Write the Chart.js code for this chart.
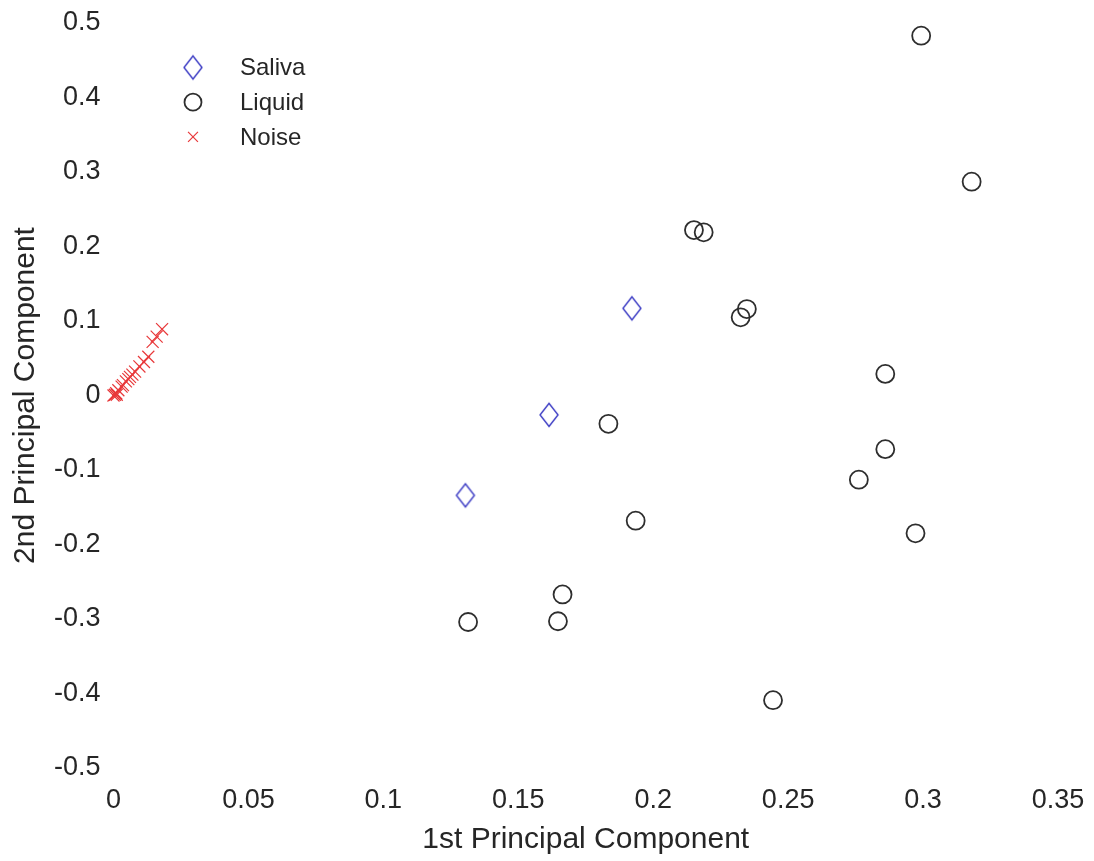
<!DOCTYPE html>
<html>
<head>
<meta charset="utf-8">
<script src="https://cdn.jsdelivr.net/npm/chart.js@4/dist/chart.umd.min.js"></script>
<style>
  html, body { margin: 0; padding: 0; background: #fff; }
  #wrap { width: 1094px; height: 861px; position: relative; }
</style>
</head>
<body>
<div id="wrap"><canvas id="pca"></canvas></div>
<script>
// values: [1st PC, 2nd PC]
const salivaX = [0.1921, 0.1614, 0.1304];
const salivaY = [0.117, -0.026, -0.134];

const liquidX = [0.2993, 0.318, 0.2151, 0.2187, 0.2347, 0.2324, 0.286, 0.286, 0.2762, 0.2972,
                 0.1834, 0.1935, 0.1664, 0.1647, 0.1314, 0.2444];
const liquidY = [0.483, 0.287, 0.222, 0.219, 0.116, 0.105, 0.029, -0.072, -0.113, -0.185,
                 -0.038, -0.168, -0.267, -0.303, -0.304, -0.409];

const noiseX = [0, 0.0005, 0.001, 0.0012, 0.0018, 0.003, 0.0035, 0.0046, 0.0055, 0.0061, 0.007,
                0.008, 0.0096, 0.0113, 0.0129, 0.0145, 0.016, 0.018];
const noiseY = [0, 0.001, 0.003, 0.001, 0.007, 0.012, 0.014, 0.019, 0.022, 0.025, 0.028,
                0.032, 0.039, 0.045, 0.052, 0.072, 0.079, 0.089];

const xTicks = [0, 0.05, 0.1, 0.15, 0.2, 0.25, 0.3, 0.35];
const xTickLabels = ['0', '0.05', '0.1', '0.15', '0.2', '0.25', '0.3', '0.35'];
const yTicks = [-0.5, -0.4, -0.3, -0.2, -0.1, 0, 0.1, 0.2, 0.3, 0.4, 0.5];
const yTickLabels = ['-0.5', '-0.4', '-0.3', '-0.2', '-0.1', '0', '0.1', '0.2', '0.3', '0.4', '0.5'];

const FONT = '"Liberation Sans", Arial, sans-serif';
const TXT = '#262626';

function pts(xs, ys) {
    return xs.map((x, i) => ({ x: x, y: ys[i] }));
}

// tall diamond marker like matlab's 'd'
function diamond(color) {
    const c = document.createElement('canvas');
    c.width = 22; c.height = 28;
    const g = c.getContext('2d');
    g.strokeStyle = color;
    g.lineWidth = 1.4;
    g.beginPath();
    g.moveTo(11, 2.5); g.lineTo(20, 14); g.lineTo(11, 25.5); g.lineTo(2, 14);
    g.closePath();
    g.stroke();
    return c;
}

// labels may hang over the plot edges, so drop the scale's own overhang padding
function noOverhang(s) {
    s.paddingTop = 0; s.paddingBottom = 0; s.paddingLeft = 0; s.paddingRight = 0;
}

// legend in the upper left corner of the plot
const cornerLegend = {
    id: 'cornerLegend',
    afterDraw(chart) {
        const ctx = chart.ctx;
        ctx.save();
        chart.data.datasets.forEach((ds, i) => {
            const y = 67.5 + i * 34.7;
            ctx.strokeStyle = ds.pointBorderColor;
            ctx.fillStyle = 'rgba(0,0,0,0)';
            ctx.lineWidth = ds.pointBorderWidth;
            Chart.helpers.drawPoint(ctx, {
                pointStyle: ds.pointStyle,
                radius: ds.legendRadius,
                borderWidth: ds.pointBorderWidth,
                rotation: 0
            }, 193, y);
            ctx.font = '24px ' + FONT;
            ctx.textBaseline = 'middle';
            ctx.fillStyle = TXT;
            ctx.fillText(ds.label, 240, y + 1);
        });
        ctx.restore();
    }
};

new Chart(document.getElementById('pca'), {
    type: 'scatter',
    data: {
        datasets: [
            {
                label: 'Saliva',
                data: pts(salivaX, salivaY),
                pointStyle: diamond('#3c3cc4'),
                pointRadius: 9,
                legendRadius: 9,
                pointBorderColor: '#3c3cc4',
                pointBorderWidth: 1.4,
                clip: false
            },
            {
                label: 'Liquid',
                data: pts(liquidX, liquidY),
                pointStyle: 'circle',
                pointRadius: 9,
                legendRadius: 8.5,
                pointBackgroundColor: 'rgba(0,0,0,0)',
                pointBorderColor: '#2e2e2e',
                pointBorderWidth: 1.8,
                clip: false
            },
            {
                label: 'Noise',
                data: pts(noiseX, noiseY),
                pointStyle: 'crossRot',
                pointRadius: 8.5,
                legendRadius: 7,
                pointBorderColor: '#e8383a',
                pointBorderWidth: 1.2,
                clip: false
            }
        ]
    },
    options: {
        responsive: true,
        maintainAspectRatio: false,
        animation: false,
        events: [],
        layout: { autoPadding: false, padding: { top: 23, right: 36, left: 0, bottom: 0 } },
        plugins: {
            legend: { display: false },
            tooltip: { enabled: false }
        },
        scales: {
            x: {
                type: 'linear',
                min: 0,
                max: 0.35,
                grid: { display: false, drawTicks: false },
                border: { display: false },
                afterBuildTicks: (s) => { s.ticks = xTicks.map(v => ({ value: v })); },
                afterFit: (s) => { s.height = 93; noOverhang(s); },
                ticks: {
                    font: { family: FONT, size: 27 },
                    color: TXT,
                    padding: 16,
                    maxRotation: 0,
                    callback: (v, i) => xTickLabels[i]
                },
                title: {
                    display: true,
                    text: '1st Principal Component',
                    font: { family: FONT, size: 30 },
                    color: TXT,
                    padding: { top: 0, bottom: 3 }
                }
            },
            y: {
                type: 'linear',
                min: -0.5,
                max: 0.5,
                grid: { display: false, drawTicks: false },
                border: { display: false },
                afterBuildTicks: (s) => { s.ticks = yTicks.map(v => ({ value: v })); },
                afterFit: (s) => { s.width = 113.5; noOverhang(s); },
                ticks: {
                    font: { family: FONT, size: 27 },
                    color: TXT,
                    padding: 13,
                    callback: (v, i) => yTickLabels[i]
                },
                title: {
                    display: true,
                    text: '2nd Principal Component',
                    font: { family: FONT, size: 30 },
                    color: TXT,
                    padding: { top: 8, bottom: 0 }
                }
            }
        }
    },
    plugins: [cornerLegend]
});
</script>
</body>
</html>
